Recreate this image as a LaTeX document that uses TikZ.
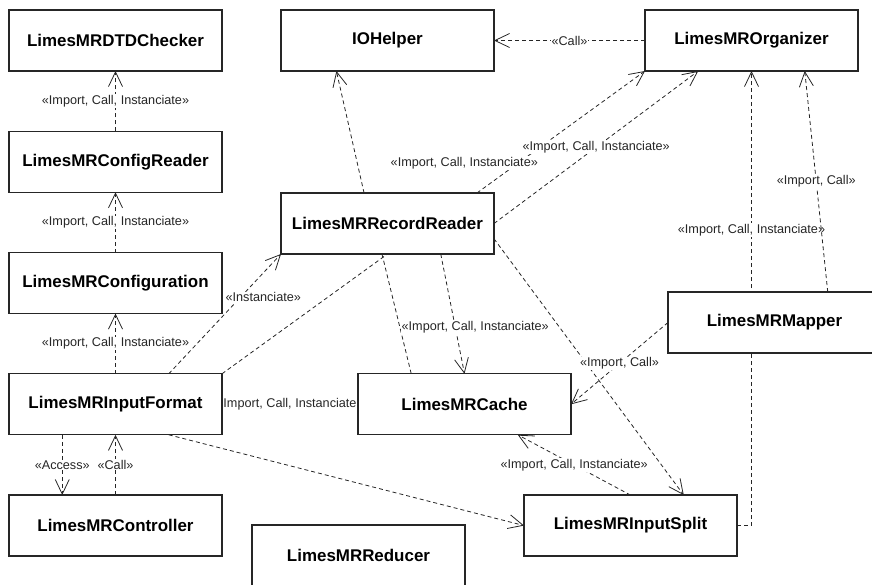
\documentclass[tikz,border=0pt]{standalone}
\usepackage{fontspec}
\setmainfont{Liberation Sans}
\usetikzlibrary{positioning}
\usetikzlibrary{arrows.meta}
\usetikzlibrary{calc}
\usetikzlibrary{backgrounds}

\tikzset{
	cls/.style = {draw = black!85, line width = 0.9pt, fill = white, outer sep = 0pt, inner sep = 0pt,
		minimum width = 159.75pt, minimum height = 45.75pt, font = \fontsize{12.7}{15}\selectfont\bfseries},
	assoc/.style = {draw = black!85, line width = 0.6pt, dash pattern = on 3pt off 2.25pt},
	dep/.style = {assoc, -{Straight Barb[length = 11pt, width = 10.5pt]}},
	lbl/.style = {fill = white, inner sep = 0.6pt, text = black!85, font = \fontsize{9.5}{11}\selectfont}
}

\begin{document}
\begin{tikzpicture}[x = 0.75pt, y = -0.75pt]
			\useasboundingbox (0,0) rectangle (872,585);
			\clip (0,0) rectangle (872,585);

			\node[cls] (dtd) at (115.5,40.5) {LimesMRDTDChecker};
			\node[cls, below = 45.2pt of dtd] (cfgreader) {LimesMRConfigReader};
			\node[cls, below = 45.2pt of cfgreader] (config) {LimesMRConfiguration};
			\node[cls, below = 45.2pt of config] (inputformat) {LimesMRInputFormat};
			\node[cls, below = 45.2pt of inputformat] (controller) {LimesMRController};
			
			\node[cls, right = 44.25pt of dtd] (iohelper) {IOHelper};
			\node[cls, right = 113.25pt of iohelper] (organizer) {LimesMROrganizer};
			\node[cls, below = 91.5pt of iohelper] (recordreader) {LimesMRRecordReader};
			\node[cls, right = 102pt of inputformat] (cache) {LimesMRCache};
			\node[cls, right = 226.5pt of controller] (inputsplit) {LimesMRInputSplit};
			\node[cls, below = 165.75pt of organizer, xshift = 17.25pt] (mapper) {LimesMRMapper};
			\node[cls, right = 22.5pt of controller, yshift = -22.5pt] (reducer) {LimesMRReducer};
			
			\node[lbl, fill = none] (ifcachelbl) at (290,404) {Import, Call, Instanciate};
			
			\begin{pgfonlayer}{background}
			\draw[dep] (cfgreader) -- node[lbl] {«Import, Call, Instanciate»} (dtd);
			\draw[dep] (config) -- node[lbl] {«Import, Call, Instanciate»} (cfgreader);
			\draw[dep] (inputformat) -- node[lbl] {«Import, Call, Instanciate»} (config);
			\draw[dep] ($(inputformat.south west)!0.25!(inputformat.south east)$) -- node[lbl] {«Access»} ($(controller.north west)!0.25!(controller.north east)$);
			\draw[dep] (controller.north) -- node[lbl] {«Call»} (inputformat.south);
			
			\draw[dep] ($(inputformat.north west)!0.75!(inputformat.north east)$) -- node[lbl, pos = 0.64, xshift = 17pt] {«Instanciate»} (recordreader.south west);
			\draw[assoc] (inputformat.north east) -- (recordreader.south);
			\draw[dep] ($(recordreader.north west)!0.39!(recordreader.north east)$) -- ($(iohelper.south west)!0.26!(iohelper.south east)$);
			\draw[dep] ($(recordreader.north west)!0.92!(recordreader.north east)$) -- node[lbl, pos = 0.246, xshift = -40.5pt] {«Import, Call, Instanciate»} (organizer.south west);
			\draw[dep] (recordreader.east) -- node[lbl] {«Import, Call, Instanciate»} ($(organizer.south west)!0.25!(organizer.south east)$);
			\draw[dep] (organizer.west) -- node[lbl] {«Call»} (iohelper.east);
			
			\draw[assoc] ($(recordreader.south west)!0.474!(recordreader.south east)$) -- ($(cache.north west)!0.25!(cache.north east)$);
			\draw[dep] ($(recordreader.south west)!0.75!(recordreader.south east)$) -- node[lbl, pos = 0.61, xshift = 15pt] {«Import, Call, Instanciate»} (cache.north);
			\draw[dep] ($(recordreader.north east)!0.75!(recordreader.south east)$) -- ($(inputsplit.north west)!0.75!(inputsplit.north east)$);
			\draw[dep] ($(inputformat.south west)!0.75!(inputformat.south east)$) -- (inputsplit.west);
			\draw[dep] (inputsplit.north) -- node[lbl] {«Import, Call, Instanciate»} ($(cache.south west)!0.75!(cache.south east)$);
			\draw[dep] (mapper.west) -- node[lbl] {«Import, Call»} (cache.east);
			\draw[dep] (inputsplit.east) -| node[lbl, pos = 0.825] {«Import, Call, Instanciate»} (organizer.south);
			\draw[dep] ($(mapper.north west)!0.75!(mapper.north east)$) -- node[lbl] {«Import, Call»} ($(organizer.south west)!0.75!(organizer.south east)$);
			\end{pgfonlayer}
\end{tikzpicture}
\end{document}
